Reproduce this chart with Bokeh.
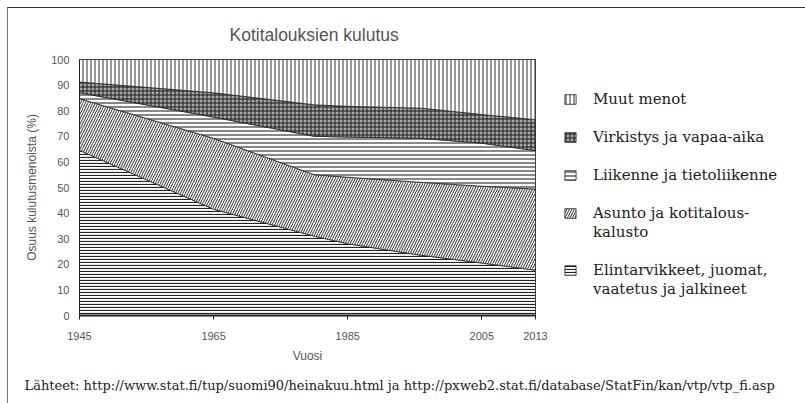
import numpy as np
from bokeh.plotting import figure
from bokeh.models import Range1d, FixedTicker, Legend, LegendItem, Title
from bokeh.embed import file_html
from bokeh.resources import INLINE

# ---- data (shares of household consumption, %) ----
years = [1945, 1965, 1980, 1985, 1996, 2005, 2013]
food = [64.5, 41.5, 31.0, 28.0, 23.5, 20.5, 17.7]        # Elintarvikkeet, juomat, vaatetus ja jalkineet
housing = [20.2, 27.7, 24.0, 26.0, 28.5, 30.0, 31.7]     # Asunto ja kotitalouskalusto
transport = [2.3, 8.3, 15.0, 15.7, 17.2, 16.8, 15.0]     # Liikenne ja tietoliikenne
leisure = [4.2, 9.5, 12.3, 12.0, 11.8, 11.2, 12.1]       # Virkistys ja vapaa-aika
other = [8.8, 13.0, 17.7, 18.3, 19.0, 21.5, 23.5]        # Muut menot

# legend lines for each series (stacking order bottom -> top)
series_labels = [
    ["Elintarvikkeet, juomat,", "vaatetus ja jalkineet"],
    ["Asunto ja kotitalous-", "kalusto"],
    ["Liikenne ja tietoliikenne"],
    ["Virkistys ja vapaa-aika"],
    ["Muut menot"],
]
x_ticks = [1945, 1965, 1985, 2005, 2013]
y_ticks = list(range(0, 101, 10))

title_text = "Kotitalouksien kulutus"
x_label = "Vuosi"
y_label = "Osuus kulutusmenoista (%)"
source_text = ("Lähteet: http://www.stat.fi/tup/suomi90/heinakuu.html ja "
               "http://pxweb2.stat.fi/database/StatFin/kan/vtp/vtp_fi.asp")

# ---- styles ----
styles = [
    dict(fill_color="white", hatch_pattern="horizontal_line", hatch_scale=3, hatch_weight=1.2, hatch_color="#222222"),
    dict(fill_color="white", hatch_pattern="right_diagonal_line", hatch_scale=5, hatch_weight=1.0, hatch_color="#2a2a2a"),
    dict(fill_color="white", hatch_pattern="horizontal_line", hatch_scale=4, hatch_weight=1.1, hatch_color="#262626"),
    dict(fill_color="#a8a8a8", hatch_pattern="cross", hatch_scale=4, hatch_weight=1, hatch_color="#1a1a1a"),
    dict(fill_color="white", hatch_pattern="vertical_line", hatch_scale=4, hatch_weight=1, hatch_color="#333333"),
]

p = figure(frame_width=456, frame_height=256, output_backend="svg", toolbar_location=None,
           x_range=Range1d(1945, 2013), y_range=Range1d(0, 100),
           min_border_left=71, min_border_right=268, min_border_top=50, min_border_bottom=88)
p.styles = {"margin-left": "7px", "margin-top": "7px",
            "border-left": "1px solid #777777", "border-top": "1px solid #333333"}
p.outline_line_color = "#222222"
p.outline_line_width = 1
p.grid.visible = False

stack = np.vstack([food, housing, transport, leisure, other])
tops = np.cumsum(stack, axis=0)
bottoms = tops - stack
xs = list(years) + list(years[::-1])

renderers = []
for i in range(stack.shape[0]):
    ys = list(tops[i]) + list(bottoms[i][::-1])
    r = p.patch(xs, ys, line_color="#222222", line_width=0.8, **styles[i])
    renderers.append(r)

# invisible renderer used for continuation lines / gaps in the legend
blank = p.patch(xs, list(tops[-1]) + list(bottoms[-1][::-1]), fill_alpha=0, line_alpha=0)

# axes
for ax in (p.xaxis[0], p.yaxis[0]):
    ax.major_label_text_font = "Liberation Sans"
    ax.major_label_text_font_size = "11px"
    ax.major_label_text_color = "#555555"
    ax.axis_label_text_font = "Liberation Sans"
    ax.axis_label_text_font_size = "12px"
    ax.axis_label_text_font_style = "normal"
    ax.axis_label_text_color = "#555555"
    ax.minor_tick_line_color = None
    ax.axis_line_color = "#222222"

p.xaxis.ticker = FixedTicker(ticks=x_ticks)
p.yaxis.ticker = FixedTicker(ticks=y_ticks)
p.xaxis.axis_line_width = 2
p.xaxis.major_tick_out = 4
p.xaxis.major_tick_in = 0
p.xaxis.major_tick_line_color = "#222222"
p.xaxis.major_label_standoff = 12
p.xaxis.axis_label = x_label
p.xaxis.axis_label_standoff = 6
p.yaxis.major_tick_line_color = None
p.yaxis.major_tick_out = 0
p.yaxis.major_label_standoff = 10
p.yaxis.axis_label = y_label
p.yaxis.axis_label_standoff = 9

# title and source line
p.title = Title(text=title_text, align="left", offset=150, standoff=29,
                text_font="Liberation Sans", text_font_size="17.5px", text_font_style="normal",
                text_color="#555555")
p.add_layout(Title(text=source_text, align="left", offset=-55, standoff=21,
                   text_font="DejaVu Serif", text_font_size="13px", text_font_style="normal",
                   text_color="#222222"), "below")

# legend (top to bottom: reverse of stacking), one row per text line
items = []
for i in range(4, -1, -1):
    lines = series_labels[i]
    items.append(LegendItem(label=lines[0], renderers=[renderers[i]]))
    for extra in lines[1:]:
        items.append(LegendItem(label=extra, renderers=[blank]))
    if i > 0:
        items.append(LegendItem(label=" ", renderers=[blank]))

legend = Legend(items=items, location=(28, 17), orientation="vertical",
                glyph_width=14, glyph_height=12, label_standoff=16, label_height=19, spacing=0,
                padding=0, margin=0, border_line_color=None, background_fill_alpha=0,
                label_text_font="DejaVu Serif", label_text_font_size="15px", label_text_color="#222222")
p.add_layout(legend, "right")

open("out.html", "w").write(file_html(p, INLINE))
